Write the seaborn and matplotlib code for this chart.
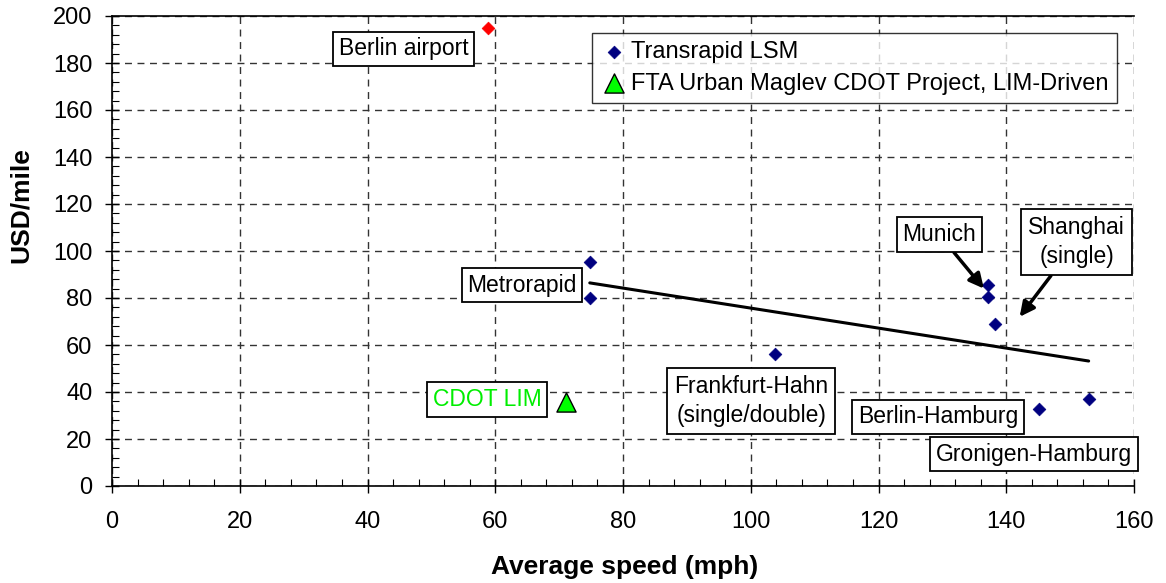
import numpy as np
import pandas as pd
import matplotlib
matplotlib.use("Agg")
import matplotlib.pyplot as plt
from matplotlib.ticker import MultipleLocator
import seaborn as sns

# Transrapid LSM projects: average speed (mph) vs cost (USD/mile)
lsm_speed = [74.8, 74.8, 103.8, 137.1, 137.1, 138.3, 145.2, 152.9]
lsm_cost = [95.5, 80.0, 56.0, 85.5, 80.3, 68.9, 32.6, 37.0]

# Berlin airport line (same technology, highlighted)
airport_speed = [58.8]
airport_cost = [195.0]

# FTA Urban Maglev CDOT project, LIM-driven
cdot_speed = [71.1]
cdot_cost = [35.9]

series_names = ["Transrapid LSM", "FTA Urban Maglev CDOT Project, LIM-Driven"]

sns.set_theme(style="white")
plt.rcParams["font.family"] = ["Liberation Sans", "DejaVu Sans"]
plt.rcParams.update({"text.color": "black", "axes.labelcolor": "black",
                     "xtick.color": "black", "ytick.color": "black"})

fig = plt.figure(figsize=(11.66, 5.83), dpi=100)
ax = fig.add_axes([112 / 1166, 1 - 486 / 583, 1022 / 1166, 470 / 583])

lsm = pd.DataFrame({"speed": lsm_speed, "cost": lsm_cost})
cdot = pd.DataFrame({"speed": cdot_speed, "cost": cdot_cost})
airport = pd.DataFrame({"speed": airport_speed, "cost": airport_cost})

# linear trend through the LSM projects
sns.regplot(data=lsm, x="speed", y="cost", scatter=False, ci=None, ax=ax,
            line_kws=dict(color="black", lw=2.2, zorder=3))

sns.scatterplot(data=lsm, x="speed", y="cost", marker="D", s=42, color="#000080",
                edgecolor="#000080", linewidth=0.5, ax=ax, label=series_names[0], zorder=4)
sns.scatterplot(data=airport, x="speed", y="cost", marker="D", s=42, color="#ff0000",
                edgecolor="#ff0000", linewidth=0.5, ax=ax, zorder=4, legend=False)
sns.scatterplot(data=cdot, x="speed", y="cost", marker="^", s=190, color="#00ff00",
                edgecolor="black", linewidth=1.0, ax=ax, label=series_names[1], zorder=4)

ax.set_xlim(0, 160)
ax.set_ylim(0, 200)
ax.xaxis.set_major_locator(MultipleLocator(20))
ax.yaxis.set_major_locator(MultipleLocator(20))
ax.xaxis.set_minor_locator(MultipleLocator(4))
ax.yaxis.set_minor_locator(MultipleLocator(4))
ax.tick_params(which="major", direction="inout", length=10, width=1, color="black",
               labelcolor="black", labelsize=17, bottom=True, left=True)
ax.tick_params(axis="x", which="major", pad=13)
ax.tick_params(axis="y", which="major", pad=9)
ax.tick_params(which="minor", direction="in", length=5, width=0.8, color="black",
               bottom=True, left=True)
ax.grid(True, which="major", color="#333333", linestyle=(0, (5, 4)), linewidth=1.0)

for side in ["left", "bottom", "top"]:
    ax.spines[side].set_visible(True)
    ax.spines[side].set_color("black")
    ax.spines[side].set_linewidth(1.2)
ax.spines["right"].set_visible(False)

ax.set_xlabel("Average speed (mph)", fontsize=19, fontweight="bold", color="black")
ax.set_ylabel("USD/mile", fontsize=19, fontweight="bold", color="black")
ax.xaxis.set_label_coords(0.502, -0.146)
ax.yaxis.set_label_coords(-0.077, 0.598)

box = dict(boxstyle="square,pad=0.25", facecolor="white", edgecolor="black", linewidth=1.3)
box2 = dict(boxstyle="square,pad=0.3", facecolor="white", edgecolor="black", linewidth=1.3)
arrow = dict(arrowstyle="-|>", color="black", lw=2.5, mutation_scale=22, shrinkA=0, shrinkB=0)
fs = 16.5

ax.text(45.7, 186, "Berlin airport", ha="center", va="center", fontsize=fs, bbox=box, zorder=5)
ax.text(64.2, 85.5, "Metrorapid", ha="center", va="center", fontsize=fs, bbox=box, zorder=5)
ax.text(100.1, 36.2, "Frankfurt-Hahn\n(single/double)", ha="center", va="center",
        fontsize=fs, bbox=box2, linespacing=1.35, zorder=5)
ax.text(58.7, 36.8, "CDOT LIM", ha="center", va="center", fontsize=fs, color="#00ee00",
        bbox=box, zorder=5)
ax.text(129.3, 29.4, "Berlin-Hamburg", ha="center", va="center", fontsize=fs, bbox=box, zorder=5)
ax.text(144.3, 13.6, "Gronigen-Hamburg", ha="center", va="center", fontsize=fs, bbox=box, zorder=5)
ax.annotate("Munich", xy=(136.5, 84), xytext=(129.5, 107), ha="center", va="center",
            fontsize=fs, bbox=box, arrowprops=arrow, zorder=5)
ax.annotate("Shanghai\n(single)", xy=(142.1, 72), xytext=(151, 103.8), ha="center", va="center",
            fontsize=fs, bbox=box2, linespacing=1.35, arrowprops=arrow, zorder=5)

leg = ax.legend(loc="upper right", bbox_to_anchor=(0.983, 0.964), fontsize=17, frameon=True,
                fancybox=False, edgecolor="black", handletextpad=0.1, handlelength=1.2,
                borderpad=0.35, labelspacing=0.4, borderaxespad=0)
leg.get_frame().set_linewidth(1.0)
for t in leg.get_texts():
    t.set_color("black")

fig.savefig("out.png", dpi=100)
